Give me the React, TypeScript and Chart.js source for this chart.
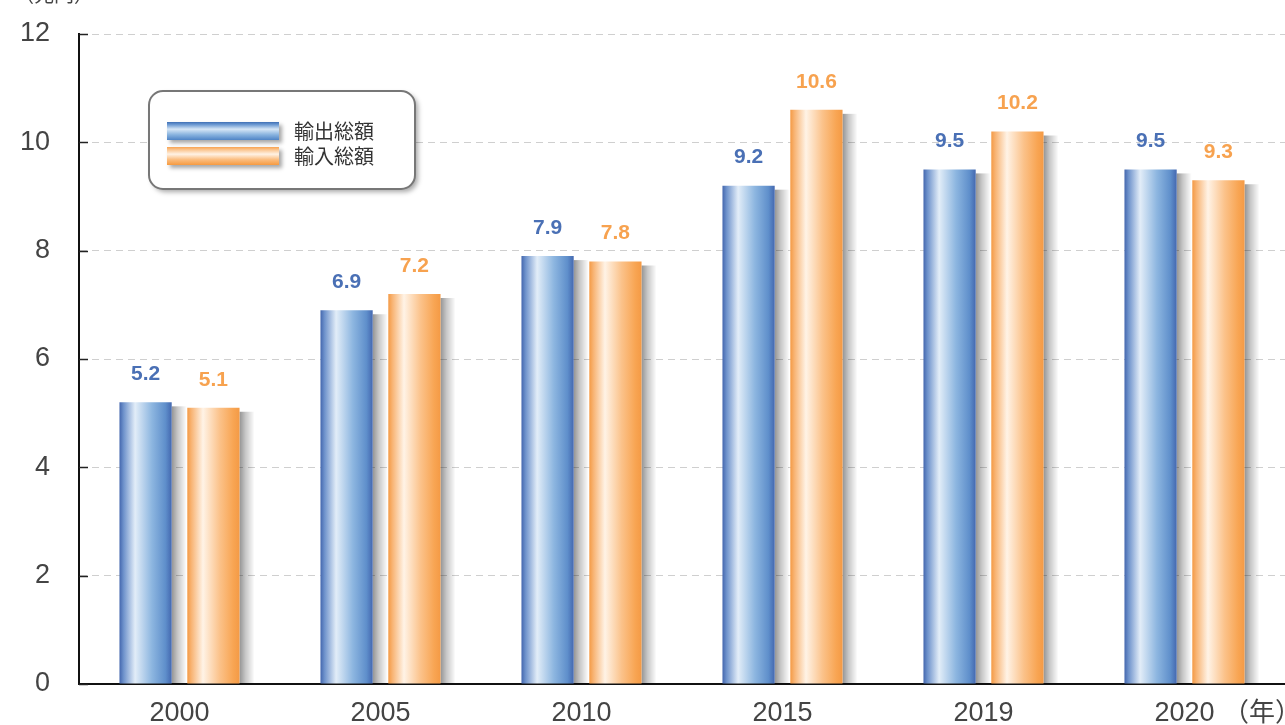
import React, { useEffect, useRef } from "react";
import { Chart, registerables } from "chart.js";

Chart.register(...registerables);

const categories = ["2000", "2005", "2010", "2015", "2019", "2020"];
const exportValues = [5.2, 6.9, 7.9, 9.2, 9.5, 9.5];
const importValues = [5.1, 7.2, 7.8, 10.6, 10.2, 9.3];
const seriesNames = ["輸出総額", "輸入総額"];
const unitLabel = "（兆円）";
const yearLabel = "（年）";
const yTicks = [0, 2, 4, 6, 8, 10, 12];

const labelColors = ["#4a70b5", "#f7a24f"];
const barStops: [number, string][][] = [
  [
    [0, "#4467ae"],
    [0.08, "#6f93cc"],
    [0.3, "#e2edf8"],
    [0.62, "#8db6e0"],
    [0.88, "#5f8fcb"],
    [1, "#4468b0"],
  ],
  [
    [0, "#f49a45"],
    [0.08, "#f8b474"],
    [0.3, "#fff3e6"],
    [0.62, "#fbc28a"],
    [0.88, "#f8a553"],
    [1, "#f49a45"],
  ],
];
const swatchStops: [number, string][][] = [
  [
    [0, "#3f6fb5"],
    [0.15, "#6e9bd3"],
    [0.4, "#d6e6f6"],
    [0.7, "#8ab4df"],
    [1, "#4f84c6"],
  ],
  [
    [0, "#f7a250"],
    [0.15, "#fbc58f"],
    [0.4, "#fff2e4"],
    [0.7, "#fbbd7f"],
    [1, "#f69a40"],
  ],
];

const CJK = '"Noto Sans CJK JP", "Noto Sans", sans-serif';
const SANS = '"Liberation Sans", Arial, sans-serif';

const customPlugin = {
  id: "customDecor",
  beforeDatasetsDraw(chart: any) {
    const ctx = chart.ctx as CanvasRenderingContext2D;
    const area = chart.chartArea;
    const ys = chart.scales.y;
    ctx.save();
    // inner tick marks
    ctx.strokeStyle = "#222";
    ctx.lineWidth = 1.5;
    ys.ticks.forEach((_t: any, i: number) => {
      const py = Math.round(ys.getPixelForTick(i)) + 0.5;
      ctx.beginPath();
      ctx.moveTo(area.left, py);
      ctx.lineTo(area.left + 9, py);
      ctx.stroke();
    });
    // bar shadows and gradients
    chart.data.datasets.forEach((_ds: any, di: number) => {
      const meta = chart.getDatasetMeta(di);
      meta.data.forEach((el: any) => {
        const p = el.getProps(["x", "y", "base", "width"], true);
        const left = p.x - p.width / 2;
        const right = p.x + p.width / 2;
        const sw = 15;
        const sg = ctx.createLinearGradient(right, 0, right + sw, 0);
        sg.addColorStop(0, "rgba(0,0,0,0.42)");
        sg.addColorStop(0.4, "rgba(0,0,0,0.22)");
        sg.addColorStop(1, "rgba(0,0,0,0)");
        ctx.fillStyle = sg;
        ctx.fillRect(right, p.y + 4, sw, p.base - p.y - 4);
        const bg = ctx.createLinearGradient(left, 0, right, 0);
        barStops[di].forEach(([o, c]) => bg.addColorStop(o, c));
        el.options = { ...el.options, backgroundColor: bg };
      });
    });
    ctx.restore();
  },
  afterDatasetsDraw(chart: any) {
    const ctx = chart.ctx as CanvasRenderingContext2D;
    ctx.save();
    ctx.font = `bold 21px ${SANS}`;
    ctx.textAlign = "center";
    ctx.textBaseline = "middle";
    chart.data.datasets.forEach((ds: any, di: number) => {
      const meta = chart.getDatasetMeta(di);
      ctx.fillStyle = labelColors[di];
      meta.data.forEach((el: any, i: number) => {
        const p = el.getProps(["x", "y"], true);
        ctx.fillText(String(ds.data[i]), p.x, p.y - 28);
      });
    });
    ctx.restore();
  },
  afterDraw(chart: any) {
    const ctx = chart.ctx as CanvasRenderingContext2D;
    ctx.save();
    // unit label
    ctx.fillStyle = "#444";
    ctx.font = `20px ${CJK}`;
    ctx.textAlign = "left";
    ctx.textBaseline = "alphabetic";
    ctx.fillText(unitLabel, 14, 2);
    // year label
    ctx.font = `26px ${CJK}`;
    ctx.textBaseline = "middle";
    ctx.fillText(yearLabel, 1223, 711);

    // legend box
    const bx = 149, by = 91, bw = 266, bh = 98, r = 14;
    ctx.save();
    ctx.shadowColor = "rgba(0,0,0,0.35)";
    ctx.shadowBlur = 5;
    ctx.shadowOffsetX = 3;
    ctx.shadowOffsetY = 3;
    ctx.beginPath();
    ctx.roundRect(bx, by, bw, bh, r);
    ctx.fillStyle = "#fff";
    ctx.fill();
    ctx.restore();
    ctx.beginPath();
    ctx.roundRect(bx, by, bw, bh, r);
    ctx.strokeStyle = "#777";
    ctx.lineWidth = 2;
    ctx.stroke();

    const swY = [122, 147];
    chart.data.datasets.forEach((ds: any, di: number) => {
      const sx = 167, sw = 112, sh = 18;
      const sy = swY[di];
      ctx.save();
      ctx.shadowColor = "rgba(0,0,0,0.35)";
      ctx.shadowBlur = 4;
      ctx.shadowOffsetX = 3;
      ctx.shadowOffsetY = 3;
      const g = ctx.createLinearGradient(0, sy, 0, sy + sh);
      swatchStops[di].forEach(([o, c]) => g.addColorStop(o, c));
      ctx.fillStyle = g;
      ctx.fillRect(sx, sy, sw, sh);
      ctx.restore();
      ctx.fillStyle = "#333";
      ctx.font = `20px ${CJK}`;
      ctx.textAlign = "left";
      ctx.textBaseline = "middle";
      ctx.fillText(ds.label, 294, sy + sh / 2);
    });
    ctx.restore();
  },
};

export default function App() {
  const ref = useRef<HTMLCanvasElement | null>(null);
  useEffect(() => {
    if (!ref.current) return;
    const chart = new Chart(ref.current, {
      type: "bar",
      data: {
        labels: categories,
        datasets: [
          { label: seriesNames[0], data: exportValues, backgroundColor: "#6f93cc", borderWidth: 0 },
          { label: seriesNames[1], data: importValues, backgroundColor: "#f8b474", borderWidth: 0 },
        ],
      },
      options: {
        responsive: false,
        animation: false,
        devicePixelRatio: 1,
        categoryPercentage: 0.675,
        barPercentage: 0.77,
        layout: { padding: { top: 34, left: 0, right: 0, bottom: 0 } },
        plugins: {
          legend: { display: false },
          tooltip: { enabled: false },
          title: { display: false },
        },
        scales: {
          x: {
            grid: { display: false, drawTicks: false },
            border: { display: true, color: "#111", width: 2 },
            ticks: {
              color: "#444",
              font: { family: SANS, size: 27 },
              padding: 13,
              maxRotation: 0,
            },
            afterFit(scale: any) {
              scale.height = 41;
            },
          },
          y: {
            min: 0,
            max: 12,
            afterBuildTicks(scale: any) {
              scale.ticks = yTicks.map((v) => ({ value: v }));
            },
            grid: {
              color: "#cfcfcf",
              lineWidth: 1,
              drawTicks: true,
              tickLength: 29,
              tickColor: "rgba(0,0,0,0)",
            },
            border: { display: true, color: "#111", width: 2, dash: [7, 5] },
            ticks: {
              color: "#444",
              font: { family: SANS, size: 27 },
              padding: 0,
            },
            afterFit(scale: any) {
              scale.width = 79;
            },
          },
        },
      },
      plugins: [customPlugin],
    });
    return () => chart.destroy();
  }, []);
  return (
    <div style={{ position: "fixed", left: 0, top: 0, width: 1285, height: 725, background: "#fff" }}>
      <canvas ref={ref} width={1285} height={725} style={{ display: "block" }} />
    </div>
  );
}
